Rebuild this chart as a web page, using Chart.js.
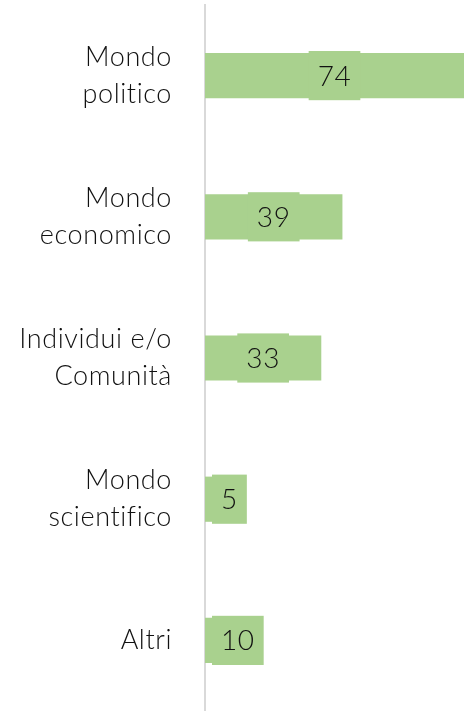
<!DOCTYPE html>
<html>
<head>
<meta charset="utf-8">
<script src="https://cdn.jsdelivr.net/npm/chart.js@4/dist/chart.umd.min.js"></script>
<style>
  html, body { margin: 0; padding: 0; background: #fff; }
  #wrap { width: 464px; height: 711px; }
</style>
</head>
<body>
<div id="wrap"><canvas id="chart"></canvas></div>
<script>
// categories (two-line labels) and values
const categories = [
    ['Mondo', 'politico'],
    ['Mondo', 'economico'],
    ['Individui e/o', 'Comunità'],
    ['Mondo', 'scientifico'],
    ['Altri']
];
const values = [74, 39, 33, 5, 10];

const barColor = '#a9d18e';
const fontFamily = 'Lato, "Open Sans", sans-serif';

// slightly wider letters, no "fi" ligature
const spacing = {
    id: 'spacing',
    beforeDraw(chart) {
        chart.ctx.letterSpacing = '0.6px';
    }
};

// draws the value boxes (same green, a bit taller than the bar)
const valueBoxes = {
    id: 'valueBoxes',
    afterDatasetsDraw(chart) {
        const ctx = chart.ctx;
        const area = chart.chartArea;
        const meta = chart.getDatasetMeta(0);
        ctx.save();
        ctx.font = '300 28px ' + fontFamily;
        ctx.textAlign = 'center';
        ctx.textBaseline = 'middle';
        meta.data.forEach((bar, i) => {
            const txt = String(values[i]);
            const w = ctx.measureText(txt).width + 18;
            const h = bar.height + 4;
            let cx = (bar.base + Math.min(bar.x, area.right)) / 2;
            if (cx - w / 2 < area.left + 7) cx = area.left + 7 + w / 2;
            ctx.fillStyle = barColor;
            ctx.fillRect(cx - w / 2, bar.y - h / 2, w, h);
            ctx.fillStyle = '#111';
            ctx.fillText(txt, cx, bar.y + 1);
        });
        ctx.restore();
    }
};

new Chart(document.getElementById('chart'), {
    type: 'bar',
    data: {
        labels: categories,
        datasets: [{
            data: values,
            backgroundColor: barColor,
            borderWidth: 0,
            categoryPercentage: 1,
            barPercentage: 0.32
        }]
    },
    options: {
        indexAxis: 'y',
        responsive: true,
        maintainAspectRatio: false,
        animation: false,
        layout: { padding: { top: 5, right: 0, bottom: 0, left: 0 } },
        plugins: {
            legend: { display: false },
            tooltip: { enabled: false }
        },
        scales: {
            x: {
                display: false,
                min: 0,
                max: 73.5
            },
            y: {
                grid: { display: false, drawTicks: false },
                border: { display: true, color: '#d9d9d9', width: 2 },
                afterFit(scale) {
                    scale.width = 205;
                    scale.paddingTop = 0;
                    scale.paddingBottom = 0;
                },
                ticks: {
                    color: '#111',
                    padding: 33,
                    font: { family: fontFamily, size: 27, weight: 300, lineHeight: 1.37 }
                }
            }
        }
    },
    plugins: [spacing, valueBoxes]
});
</script>
</body>
</html>
